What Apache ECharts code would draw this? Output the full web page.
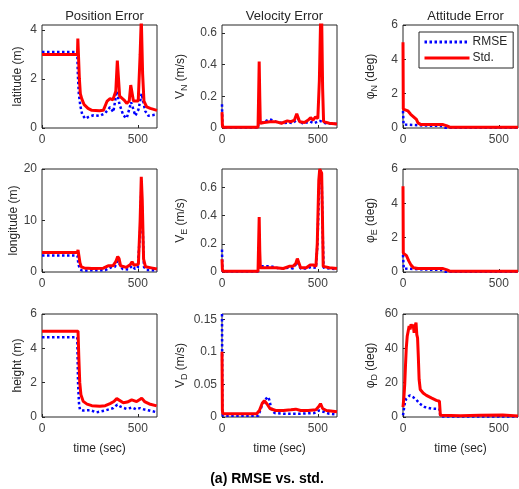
<!DOCTYPE html>
<html>
<head>
<meta charset="utf-8">
<script src="https://cdn.jsdelivr.net/npm/echarts@6/dist/echarts.min.js"></script>
<style>html,body{margin:0;padding:0;background:#fff}#c{width:519px;height:489px}</style>
</head>
<body>
<div id="c"></div>
<script>
// ---- data: [time (sec), value] pairs ----
const latRmse = [[0,3.1],[184,3.1],[187,2.2],[192,1.4],[200,0.9],[210,0.55],[225,0.38],[243,0.45],[269,0.52],[303,0.5],[329,0.6],[355,0.85],[372,0.65],[390,1.5],[405,0.95],[425,0.5],[442,0.4],[465,1.05],[477,0.75],[487,0.5],[503,0.75],[520,1.4],[538,0.7],[555,0.5],[600,0.55]];
const latStd = [[0,3.0],[185,3.0],[187,3.65],[191,3.7],[195,2.0],[200,1.4],[207,1.2],[220,0.95],[240,0.8],[260,0.72],[300,0.7],[320,0.72],[332,0.95],[340,1.1],[355,1.2],[370,1.15],[385,1.5],[393,2.75],[398,2.7],[405,1.3],[430,1.13],[442,1.0],[455,1.1],[463,1.75],[468,1.8],[477,1.1],[487,1.05],[502,1.1],[512,3.0],[518,4.5],[525,2.2],[532,1.1],[546,0.86],[565,0.8],[600,0.72]];
const lonRmse = [[0,3.2],[185,3.2],[190,1.5],[198,0.5],[210,0.3],[330,0.35],[360,0.9],[380,1.0],[395,2.2],[405,1.5],[420,0.6],[450,0.5],[470,1.2],[485,0.6],[500,0.8],[512,8],[518,16],[524,10],[532,1.0],[545,0.4],[600,0.3]];
const lonStd = [[0,3.8],[185,3.8],[188,4.3],[193,4.1],[198,1.8],[205,1.0],[220,0.8],[260,0.7],[320,0.75],[345,1.2],[370,1.2],[385,2.0],[395,3.0],[402,2.6],[410,1.2],[440,0.9],[460,1.4],[470,2.0],[480,1.3],[490,1.0],[503,1.5],[512,10],[518,18.5],[523,14],[530,2.5],[540,1.0],[570,0.8],[600,0.6]];
const hRmse = [[0,4.65],[184,4.65],[188,2.0],[193,0.8],[198,0.43],[215,0.38],[250,0.4],[285,0.27],[330,0.38],[372,0.52],[393,0.72],[410,0.6],[442,0.47],[470,0.55],[490,0.45],[511,0.52],[530,0.45],[560,0.38],[600,0.27]];
const hStd = [[0,5.0],[188,5.0],[192,3.5],[197,2.0],[203,1.3],[215,0.91],[235,0.75],[260,0.66],[302,0.62],[330,0.66],[355,0.78],[375,0.9],[390,1.07],[400,1.0],[424,0.83],[445,0.87],[468,1.0],[494,0.9],[508,1.0],[520,1.1],[535,0.9],[560,0.76],[598,0.65]];
const vnRmse = [[0,0.15],[2,0.02],[5,0.003],[188,0.003],[192,0.05],[200,0.03],[230,0.045],[245,0.055],[260,0.05],[280,0.04],[320,0.03],[350,0.035],[370,0.03],[395,0.06],[420,0.03],[460,0.04],[480,0.03],[510,0.045],[520,0.04],[540,0.03],[600,0.025]];
const vnStd = [[0,0.1],[2,0.02],[5,0.005],[188,0.005],[191,0.2],[194,0.42],[197,0.2],[200,0.03],[220,0.035],[250,0.04],[280,0.04],[310,0.03],[341,0.045],[360,0.04],[378,0.05],[390,0.09],[398,0.09],[405,0.04],[430,0.035],[450,0.05],[462,0.065],[475,0.05],[488,0.07],[500,0.06],[508,0.3],[514,0.66],[520,0.7],[525,0.25],[530,0.04],[560,0.03],[600,0.025]];
const veRmse = [[0,0.16],[2,0.02],[5,0.003],[188,0.003],[192,0.04],[200,0.03],[230,0.04],[240,0.05],[255,0.04],[300,0.025],[350,0.03],[370,0.025],[395,0.07],[410,0.025],[440,0.025],[465,0.035],[490,0.03],[498,0.2],[507,0.62],[513,0.68],[520,0.66],[525,0.3],[530,0.03],[600,0.02]];
const veStd = [[0,0.09],[2,0.02],[5,0.005],[188,0.005],[191,0.2],[194,0.39],[197,0.15],[200,0.03],[240,0.03],[280,0.03],[320,0.025],[350,0.04],[370,0.04],[385,0.06],[393,0.095],[402,0.09],[410,0.03],[440,0.03],[460,0.05],[475,0.05],[490,0.04],[497,0.2],[505,0.65],[510,0.73],[520,0.7],[524,0.4],[528,0.04],[560,0.03],[600,0.025]];
const vdRmse = [[0,0.158],[2,0.01],[5,0.002],[190,0.002],[205,0.015],[222,0.025],[238,0.031],[246,0.027],[258,0.012],[275,0.006],[320,0.005],[400,0.005],[480,0.006],[505,0.01],[515,0.012],[530,0.008],[560,0.005],[600,0.004]];
const vdStd = [[0,0.1],[2,0.01],[5,0.005],[181,0.005],[195,0.01],[210,0.021],[221,0.025],[235,0.02],[250,0.013],[280,0.01],[320,0.01],[360,0.011],[385,0.012],[410,0.01],[450,0.01],[490,0.011],[505,0.016],[514,0.0205],[525,0.013],[545,0.01],[600,0.008]];
const pnRmse = [[0,1.0],[3,0.2],[10,0.15],[100,0.15],[200,0.12],[220,0.02],[600,0.02]];
const pnStd = [[0,5.0],[1.5,1.1],[8,1.05],[25,1.0],[40,0.8],[55,0.65],[70,0.5],[78,0.3],[94,0.2],[150,0.2],[209,0.2],[230,0.12],[244,0.05],[300,0.05],[600,0.05]];
const peRmse = [[0,1.0],[4,0.2],[10,0.15],[100,0.15],[200,0.12],[220,0.02],[600,0.02]];
const peStd = [[0,5.0],[1.5,1.1],[8,1.05],[18,0.95],[30,0.65],[42,0.4],[55,0.25],[78,0.2],[150,0.2],[209,0.2],[230,0.12],[244,0.05],[600,0.05]];
const pdRmse = [[0,1],[4,4],[9,7.7],[17,10.7],[35,12.6],[52,11.6],[70,10],[87,7.8],[113,5.8],[148,4.9],[190,4.7],[195,0.3],[600,0.3]];
const pdStd = [[0,5.8],[5,12],[9,19],[13,30],[17,40],[22,47],[27,50],[32,53],[37,51],[42,54],[48,52],[53,54],[58,49],[63,53],[68,55],[72,48],[76,46],[80,35],[84,22],[90,16],[105,14],[122,12.6],[150,11],[174,9.7],[190,9.2],[195,1],[200,0.7],[300,0.8],[400,1.0],[520,1.2],[530,0.6],[600,0.6]];

// ---- axes / labels ----
const colTitles = ['Position Error', 'Velocity Error', 'Attitude Error'];
const xTicks = [0, 500];
const xMax = 600;
const panels = [
  // row 1
  {name: 'latitude (m)', max: 4.2, ticks: [0, 2, 4], rmse: latRmse, std: latStd},
  {name: 'V{s|N} (m/s)', max: 0.65, ticks: [0, 0.2, 0.4, 0.6], rmse: vnRmse, std: vnStd},
  {name: 'φ{s|N} (deg)', max: 6, ticks: [0, 2, 4, 6], rmse: pnRmse, std: pnStd},
  // row 2
  {name: 'longitude (m)', max: 20, ticks: [0, 10, 20], rmse: lonRmse, std: lonStd},
  {name: 'V{s|E} (m/s)', max: 0.73, ticks: [0, 0.2, 0.4, 0.6], rmse: veRmse, std: veStd},
  {name: 'φ{s|E} (deg)', max: 6, ticks: [0, 2, 4, 6], rmse: peRmse, std: peStd},
  // row 3
  {name: 'height (m)', max: 6, ticks: [0, 2, 4, 6], rmse: hRmse, std: hStd},
  {name: 'V{s|D} (m/s)', max: 0.158, ticks: [0, 0.05, 0.1, 0.15], rmse: vdRmse, std: vdStd},
  {name: 'φ{s|D} (deg)', max: 60, ticks: [0, 20, 40, 60], rmse: pdRmse, std: pdStd}
];

// ---- layout / style ----
const FONT = '"Liberation Sans", Arial, Helvetica, sans-serif';
const INK = '#262626';
const colLeft = [42, 222, 403];
const rowTop = [25, 169, 314];
const W = 115, H = 103;
const nameGaps = [18, 33, 24];

const grid = [], xAxis = [], yAxis = [], series = [];
panels.forEach((p, i) => {
  const r = Math.floor(i / 3), c = i % 3;
  grid.push({left: colLeft[c], top: rowTop[r], width: W, height: H, show: true,
    borderColor: INK, borderWidth: 1, backgroundColor: '#fff', containLabel: false});
  xAxis.push({type: 'value', gridIndex: i, min: 0, max: xMax,
    name: r === 2 ? 'time (sec)' : '', nameLocation: 'middle', nameGap: 26,
    nameTextStyle: {fontFamily: FONT, fontSize: 12, color: INK},
    axisLine: {show: false}, splitLine: {show: false},
    axisTick: {show: true, inside: true, length: 3, customValues: xTicks, lineStyle: {color: INK}},
    axisLabel: {customValues: xTicks, fontFamily: FONT, fontSize: 12, color: '#404040', margin: 6}});
  yAxis.push({type: 'value', gridIndex: i, min: 0, max: p.max,
    name: p.name, nameLocation: 'middle', nameGap: nameGaps[c], nameRotate: 90,
    nameTextStyle: {fontFamily: FONT, fontSize: 12, color: INK,
      rich: {s: {fontFamily: FONT, fontSize: 9, color: INK, padding: [8, 0, 0, 0]}}},
    axisLine: {show: false}, splitLine: {show: false},
    axisTick: {show: true, inside: true, length: 3, customValues: p.ticks, lineStyle: {color: INK}},
    axisLabel: {customValues: p.ticks, fontFamily: FONT, fontSize: 12, color: '#404040', margin: 5}});
  series.push({type: 'line', name: 'RMSE', xAxisIndex: i, yAxisIndex: i, data: p.rmse,
    symbol: 'none', silent: true, animation: false,
    lineStyle: {color: '#0000ff', width: 2.5, type: [2.5, 2.5]}, itemStyle: {color: '#0000ff'}});
  series.push({type: 'line', name: 'Std.', xAxisIndex: i, yAxisIndex: i, data: p.std,
    symbol: 'none', silent: true, animation: false,
    lineStyle: {color: '#ff0000', width: 3}, itemStyle: {color: '#ff0000'}});
});

const title = colTitles.map((t, c) => ({text: t, left: colLeft[c] + W / 2, top: 5, textAlign: 'center',
  textStyle: {fontFamily: FONT, fontSize: 13, fontWeight: 'normal', color: INK}}));
title.push({text: '(a) RMSE vs. std.', left: 262, top: 467, textAlign: 'center',
  textStyle: {fontFamily: FONT, fontSize: 14, fontWeight: 'bold', color: '#000'}});

const chart = echarts.init(document.getElementById('c'), null, {renderer: 'canvas'});
chart.setOption({
  animation: false,
  backgroundColor: '#fff',
  title: title,
  grid: grid, xAxis: xAxis, yAxis: yAxis, series: series,
  legend: {data: ['RMSE', 'Std.'], orient: 'vertical', left: 419, top: 32,
    width: 88, padding: [4, 6, 4, 4], itemGap: 4, itemWidth: 45, itemHeight: 12,
    backgroundColor: '#fff', borderColor: INK, borderWidth: 1, borderRadius: 0,
    selectedMode: false,
    itemStyle: {opacity: 0},
    lineStyle: {width: 3},
    textStyle: {fontFamily: FONT, fontSize: 12, color: INK, padding: [0, 0, 0, -2]}}
});
</script>
</body>
</html>
